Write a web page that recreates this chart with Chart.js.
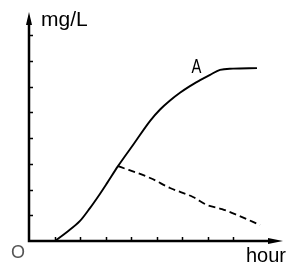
<!DOCTYPE html>
<html>
<head>
<meta charset="utf-8">
<script src="https://cdn.jsdelivr.net/npm/chart.js@4"></script>
<style>
  html, body { margin: 0; padding: 0; background: #fff; }
  #wrap { width: 300px; height: 269px; }
</style>
</head>
<body>
<div id="wrap"><canvas id="chart" width="300" height="269"></canvas></div>
<script>
// Curve A (solid) - hours vs mg/L
const hoursA = [1.02, 1.49, 2.0, 2.39, 2.78, 3.06, 3.49, 4.12, 4.75, 5.14, 5.53, 5.92, 6.31, 6.71, 7.10, 7.49, 8.0, 8.94];
const concA  = [0.0, 0.35, 0.78, 1.28, 1.83, 2.25, 2.91, 3.79, 4.67, 5.11, 5.46, 5.76, 6.02, 6.25, 6.46, 6.65, 6.70, 6.72];

// Dashed branch
const hoursB = [3.49, 4.75, 5.53, 6.43, 6.98, 7.57, 8.16, 9.06];
const concB  = [2.91, 2.45, 2.06, 1.71, 1.40, 1.24, 1.01, 0.62];

// Tick positions on both axes
const xTicks = [1, 2, 3, 4, 5, 6, 7, 8];
const yTicks = [1, 2, 3, 4, 5, 6, 7, 8];

const xMax = 9.96;
const yMax = 8.9;

// Draws axes with arrows, inward ticks and labels
const axesPlugin = {
    id: 'axes',
    afterDatasetsDraw(chart) {
        const ctx = chart.ctx;
        const xs = chart.scales.x;
        const ys = chart.scales.y;
        const x0 = xs.getPixelForValue(0);
        const y0 = ys.getPixelForValue(0);
        const xEnd = xs.getPixelForValue(xMax);
        const yEnd = ys.getPixelForValue(yMax);

        ctx.save();
        ctx.strokeStyle = '#000';
        ctx.fillStyle = '#000';
        ctx.lineWidth = 2.5;
        ctx.lineCap = 'butt';

        // axis lines
        ctx.beginPath();
        ctx.moveTo(x0, yEnd + 8);
        ctx.lineTo(x0, y0);
        ctx.lineTo(xEnd - 10, y0);
        ctx.stroke();

        // arrowheads
        ctx.beginPath();
        ctx.moveTo(x0, yEnd);
        ctx.lineTo(x0 - 3, yEnd + 13);
        ctx.lineTo(x0 + 3, yEnd + 13);
        ctx.closePath();
        ctx.fill();

        ctx.beginPath();
        ctx.moveTo(xEnd, y0);
        ctx.lineTo(xEnd - 15, y0 - 3);
        ctx.lineTo(xEnd - 15, y0 + 3);
        ctx.closePath();
        ctx.fill();

        // ticks
        ctx.lineWidth = 1.5;
        ctx.beginPath();
        xTicks.forEach(v => {
            const px = Math.round(xs.getPixelForValue(v)) + 0.5;
            ctx.moveTo(px, y0);
            ctx.lineTo(px, y0 - 4);
        });
        yTicks.forEach(v => {
            const py = Math.round(ys.getPixelForValue(v)) + 0.5;
            ctx.moveTo(x0, py);
            ctx.lineTo(x0 + 4, py);
        });
        ctx.stroke();

        // labels
        ctx.textBaseline = 'alphabetic';
        ctx.font = '21px "Liberation Sans", Arial, sans-serif';
        ctx.fillText('mg/L', x0 + 12, yEnd + 14);
        ctx.font = '20px "Liberation Sans", Arial, sans-serif';
        ctx.fillText('hour', xEnd - 37, y0 + 21);

        ctx.fillStyle = '#555';
        ctx.font = '18px "Liberation Sans", Arial, sans-serif';
        ctx.fillText('O', x0 - 18, y0 + 17);

        // curve label, narrow lettering
        ctx.fillStyle = '#000';
        ctx.font = '20px "Liberation Sans", Arial, sans-serif';
        ctx.translate(xs.getPixelForValue(6.37), ys.getPixelForValue(6.52));
        ctx.scale(0.74, 1);
        ctx.fillText('A', 0, 0);
        ctx.restore();
    }
};

new Chart(document.getElementById('chart').getContext('2d'), {
    type: 'scatter',
    data: {
        datasets: [
            {
                label: 'A',
                data: hoursA.map((h, i) => ({ x: h, y: concA[i] })),
                showLine: true,
                borderColor: '#000',
                borderWidth: 1.9,
                pointRadius: 0,
                cubicInterpolationMode: 'monotone',
                fill: false
            },
            {
                label: 'B',
                data: hoursB.map((h, i) => ({ x: h, y: concB[i] })),
                showLine: true,
                borderColor: '#000',
                borderWidth: 1.8,
                borderDash: [7, 4],
                pointRadius: 0,
                cubicInterpolationMode: 'monotone',
                fill: false
            }
        ]
    },
    options: {
        responsive: false,
        animation: false,
        layout: { padding: { left: 29, right: 17, top: 12, bottom: 28 } },
        scales: {
            x: { type: 'linear', min: 0, max: xMax, display: false },
            y: { type: 'linear', min: 0, max: yMax, display: false }
        },
        plugins: {
            legend: { display: false },
            tooltip: { enabled: false }
        }
    },
    plugins: [axesPlugin]
});
</script>
</body>
</html>
